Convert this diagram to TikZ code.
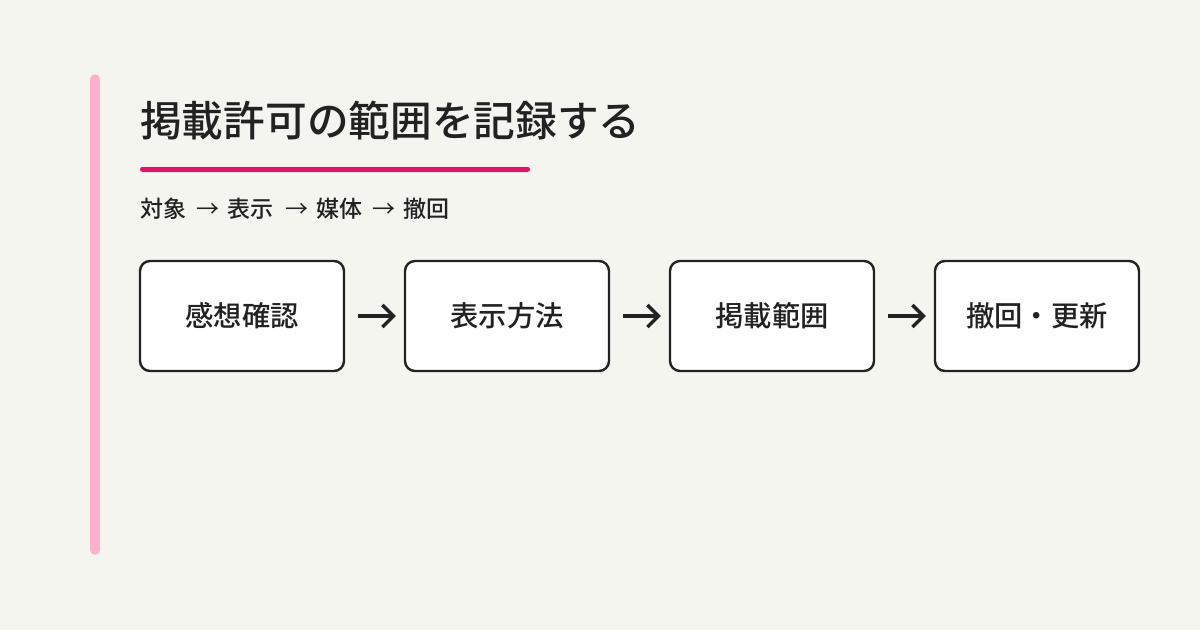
\documentclass[tikz,border=0pt]{standalone}
\usepackage{fontspec}
\setmainfont{Noto Sans CJK JP}
\newfontfamily\medfont{Noto Sans CJK JP Medium}
\usetikzlibrary{arrows.meta}
\definecolor{bgc}{HTML}{F5F5F0}
\definecolor{ink}{HTML}{222222}
\definecolor{pinkbar}{HTML}{FFB0CC}
\definecolor{accent}{HTML}{F5086A}
\begin{document}
\begin{tikzpicture}[x=1pt,y=-1pt,
  stepbox/.style={draw=ink,line width=2.4pt,fill=white,rounded corners=10pt,
    minimum width=204pt,minimum height=110pt,inner sep=0pt,
    font=\medfont\fontsize{28.3}{32}\selectfont,text=ink},
  flow/.style={draw=ink,line width=3.6pt,-{Straight Barb[length=11pt,width=22pt,line width=3.4pt]}},
  lbl/.style={inner sep=0pt,text=ink,anchor=base west},
  sublbl/.style={lbl,font=\medfont\fontsize{23}{26}\selectfont},
  subarr/.style={inner sep=0pt,text=ink,anchor=base,font=\fontsize{23}{26}\selectfont}]
\fill[bgc] (0,0) rectangle (1200,630);
\useasboundingbox (0,0) rectangle (1200,630);
\draw[pinkbar,line width=9.5pt,line cap=round] (95,79) coordinate (bt) -- (95,550) coordinate (bb);
\node[lbl,font=\medfont\fontsize{41.7}{46}\selectfont] (title) at (140,136) {掲載許可の範囲を記録する};
\draw[accent,line width=5pt,line cap=round] (142.5,169) coordinate (ul) -- (527.5,169) coordinate (ur);
\node[sublbl] (s1) at (140,217) {対象};
\node[subarr] (a1) at (208,217) {→};
\node[sublbl] (s2) at (227,217) {表示};
\node[subarr] (a2) at (296.5,217) {→};
\node[sublbl] (s3) at (316,217) {媒体};
\node[subarr] (a3) at (384,217) {→};
\node[sublbl] (s4) at (403,217) {撤回};
\node[stepbox] (b1) at (242,316) {感想確認};
\node[stepbox] (b2) at (507,316) {表示方法};
\node[stepbox] (b3) at (772,316) {掲載範囲};
\node[stepbox] (b4) at (1037,316) {撤回・更新};
\draw[flow] ([xshift=13pt]b1.east) -- ([xshift=-8pt]b2.west);
\draw[flow] ([xshift=13pt]b2.east) -- ([xshift=-8pt]b3.west);
\draw[flow] ([xshift=13pt]b3.east) -- ([xshift=-8pt]b4.west);
\end{tikzpicture}
\end{document}
